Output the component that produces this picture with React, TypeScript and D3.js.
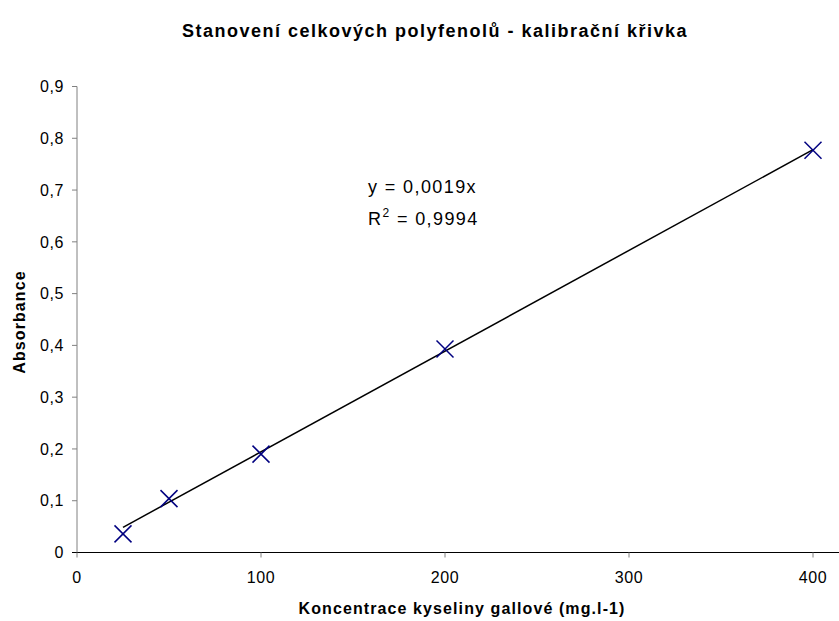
import React, { useEffect, useRef } from "react";
import * as d3 from "d3";

const concentrations = [25, 50, 100, 200, 400];
const absorbances = [0.036, 0.104, 0.19, 0.393, 0.777];
const xTicks = [0, 100, 200, 300, 400];
const yTicks = [0, 0.1, 0.2, 0.3, 0.4, 0.5, 0.6, 0.7, 0.8, 0.9];
const titleText = "Stanovení celkových polyfenolů - kalibrační křivka";
const xTitle = "Koncentrace kyseliny gallové (mg.l-1)";
const yTitle = "Absorbance";
const eqText = "y = 0,0019x";
const r2Value = " = 0,9994";

const W = 839;
const H = 621;
const FONT = "'Liberation Sans', Arial, sans-serif";

export default function App() {
  const ref = useRef<SVGSVGElement | null>(null);

  useEffect(() => {
    const svg = d3.select(ref.current);
    svg.selectAll("*").remove();

    const x = d3.scaleLinear().domain([0, 400]).range([77, 813]);
    const y = d3.scaleLinear().domain([0, 0.9]).range([552.5, 86.5]);

    svg.append("rect").attr("width", W).attr("height", H).attr("fill", "#fff");

    // title
    svg.append("text").attr("x", 435).attr("y", 37).attr("text-anchor", "middle")
      .attr("font-family", FONT).attr("font-weight", "bold").attr("font-size", 18)
      .attr("letter-spacing", 1.5)
      .text(titleText);

    // y axis
    const gy = svg.append("g");
    gy.append("line").attr("x1", 77).attr("x2", 77).attr("y1", y(0.9)).attr("y2", y(0))
      .attr("stroke", "#808080").attr("stroke-width", 1);
    yTicks.forEach((t) => {
      gy.append("line").attr("x1", 72).attr("x2", 77).attr("y1", y(t)).attr("y2", y(t))
        .attr("stroke", "#808080");
      gy.append("text").attr("x", 64).attr("y", y(t)).attr("dy", "0.36em")
        .attr("text-anchor", "end").attr("font-family", FONT).attr("font-size", 16)
        .attr("letter-spacing", 0.6)
        .text(t === 0 ? "0" : d3.format(".1f")(t).replace(".", ","));
    });

    // x axis
    const gx = svg.append("g");
    gx.append("line").attr("x1", 72).attr("x2", 839).attr("y1", y(0)).attr("y2", y(0))
      .attr("stroke", "#000").attr("stroke-width", 1);
    xTicks.forEach((t) => {
      gx.append("line").attr("x1", x(t)).attr("x2", x(t)).attr("y1", y(0)).attr("y2", y(0) + 5)
        .attr("stroke", "#808080");
      gx.append("text").attr("x", x(t)).attr("y", 583).attr("text-anchor", "middle")
        .attr("font-family", FONT).attr("font-size", 16).attr("letter-spacing", 0.6)
        .text(String(t));
    });

    // axis titles
    svg.append("text").attr("x", 462).attr("y", 614).attr("text-anchor", "middle")
      .attr("font-family", FONT).attr("font-weight", "bold").attr("font-size", 16)
      .attr("letter-spacing", 1.1)
      .text(xTitle);
    svg.append("text").attr("transform", `translate(25,322) rotate(-90)`)
      .attr("text-anchor", "middle").attr("font-family", FONT).attr("font-weight", "bold")
      .attr("font-size", 16).attr("letter-spacing", 1.1).text(yTitle);

    // trendline through origin (least squares)
    const sxy = d3.sum(concentrations, (c, i) => c * absorbances[i]);
    const sxx = d3.sum(concentrations, (c) => c * c);
    const slope = sxy / sxx;
    const x0 = d3.min(concentrations)!;
    const x1 = d3.max(concentrations)!;
    const line = d3.line<number>().x((d) => x(d)).y((d) => y(slope * d));
    svg.append("path").attr("d", line([x0, x1])).attr("fill", "none")
      .attr("stroke", "#000").attr("stroke-width", 1.5);

    // markers
    const s = 8.5;
    concentrations.forEach((c, i) => {
      const cx = x(c);
      const cy = y(absorbances[i]);
      svg.append("path")
        .attr("d", `M${cx - s},${cy - s}L${cx + s},${cy + s}M${cx - s},${cy + s}L${cx + s},${cy - s}`)
        .attr("stroke", "#000080").attr("stroke-width", 1.5).attr("fill", "none");
    });

    // equation
    const eq = svg.append("text").attr("font-family", FONT).attr("font-size", 18)
      .attr("letter-spacing", 1.4);
    eq.append("tspan").attr("x", 368).attr("y", 193).text(eqText);
    const r2 = svg.append("text").attr("font-family", FONT).attr("font-size", 18)
      .attr("letter-spacing", 1.4).attr("x", 368).attr("y", 225);
    r2.append("tspan").text("R");
    r2.append("tspan").attr("font-size", 12).attr("dy", -8).text("2");
    r2.append("tspan").attr("dy", 8).text(r2Value);
  }, []);

  return (
    <svg ref={ref} width={W} height={H}
      style={{ position: "absolute", left: 0, top: 0, display: "block" }} />
  );
}
